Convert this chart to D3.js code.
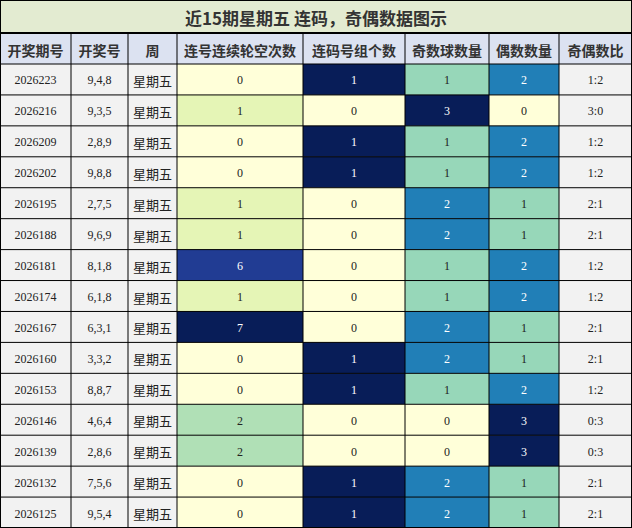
<!DOCTYPE html><html><head><meta charset="utf-8"><script src="https://cdn.jsdelivr.net/npm/d3@7"></script>
<style>body{margin:0;background:#fff}</style></head><body><svg id="c" width="632" height="528"></svg>
<script>
const headers=["开奖期号","开奖号","周","连号连续轮空次数","连码号组个数","奇数球数量","偶数数量","奇偶数比"];
const periods=["2026223","2026216","2026209","2026202","2026195","2026188","2026181","2026174","2026167","2026160","2026153","2026146","2026139","2026132","2026125"];
const draws=["9,4,8","9,3,5","2,8,9","9,8,8","2,7,5","9,6,9","8,1,8","6,1,8","6,3,1","3,3,2","8,8,7","4,6,4","2,8,6","7,5,6","9,5,4"];
const weekday="星期五";
const gapCounts=[0,1,0,0,1,1,6,1,7,0,0,2,2,0,0];
const pairGroups=[1,0,1,1,0,0,0,0,0,1,1,0,0,1,1];
const oddCounts=[1,3,1,1,2,2,1,1,2,2,1,0,0,2,2];
const evenCounts=[2,0,2,2,1,1,2,2,1,1,2,3,3,1,1];
const ratios=["1:2","3:0","1:2","1:2","2:1","2:1","1:2","1:2","2:1","2:1","1:2","0:3","0:3","2:1","2:1"];
const title="近15期星期五 连码，奇偶数据图示";

const svg=d3.select("#c");
const W=632,H=528,titleH=33,headH=31;
const xEdges=[0,71,128,177,303,405,489,559,632];
const y=d3.scaleBand().domain(d3.range(periods.length)).range([titleH+headH,H]);
const cjk="'Noto Sans CJK SC',sans-serif", serif="'Liberation Serif','DejaVu Serif',serif";
svg.append("rect").attr("width",W).attr("height",titleH).attr("fill","#e3ebd1");
svg.append("text").attr("x",W/2).attr("y",titleH/2+1).attr("text-anchor","middle").attr("dominant-baseline","central")
 .attr("font-family",cjk).attr("font-weight","bold").attr("font-size",17).attr("fill","#333").text(title);
svg.append("rect").attr("y",titleH).attr("width",W).attr("height",headH).attr("fill","#dce2f1");
headers.forEach((h,i)=>svg.append("text").attr("x",(xEdges[i]+xEdges[i+1])/2).attr("y",titleH+headH/2+1)
 .attr("text-anchor","middle").attr("dominant-baseline","central").attr("font-family",cjk).attr("font-weight","bold")
 .attr("font-size",14).attr("fill","#333").text(h));
const cols=[
 {v:periods},{v:draws},{v:Array(15).fill(weekday),cjk:true},
 {v:gapCounts,num:true},{v:pairGroups,num:true},{v:oddCounts,num:true},{v:evenCounts,num:true},{v:ratios}];
cols.forEach((c,ci)=>{
 const mx=c.num?d3.max(c.v):1;
 const col=c.num?d3.scaleSequential(d3.interpolateYlGnBu).domain([0,mx]):null;
 c.v.forEach((v,r)=>{
  const fill=c.num?col(v):"#f2f2f2";
  svg.append("rect").attr("x",xEdges[ci]).attr("y",y(r)).attr("width",xEdges[ci+1]-xEdges[ci]).attr("height",y.bandwidth()).attr("fill",fill);
  const dark=c.num&&v/mx>0.6;
  svg.append("text").attr("x",(xEdges[ci]+xEdges[ci+1])/2).attr("y",y(r)+y.bandwidth()/2+1)
   .attr("text-anchor","middle").attr("dominant-baseline","central").attr("font-family",c.cjk?cjk:serif)
   .attr("font-size",c.cjk?13:12).attr("fill",dark?"#fff":"#222").text(v);
 });
});
const g=svg.append("g").attr("stroke","#000").attr("stroke-width",1);
xEdges.forEach((x,i)=>g.append("line").attr("x1",Math.min(Math.max(x,0.5),W-0.5)).attr("x2",Math.min(Math.max(x,0.5),W-0.5)).attr("y1",titleH).attr("y2",H));
d3.range(periods.length+1).forEach(r=>{const yy=r<periods.length?y(r):H-0.5;g.append("line").attr("x1",0).attr("x2",W).attr("y1",yy).attr("y2",yy);});
g.append("line").attr("x1",0).attr("x2",W).attr("y1",titleH).attr("y2",titleH).attr("stroke-width",2);
g.append("rect").attr("x",0.5).attr("y",0.5).attr("width",W-1).attr("height",H-1).attr("fill","none");
</script></body></html>
